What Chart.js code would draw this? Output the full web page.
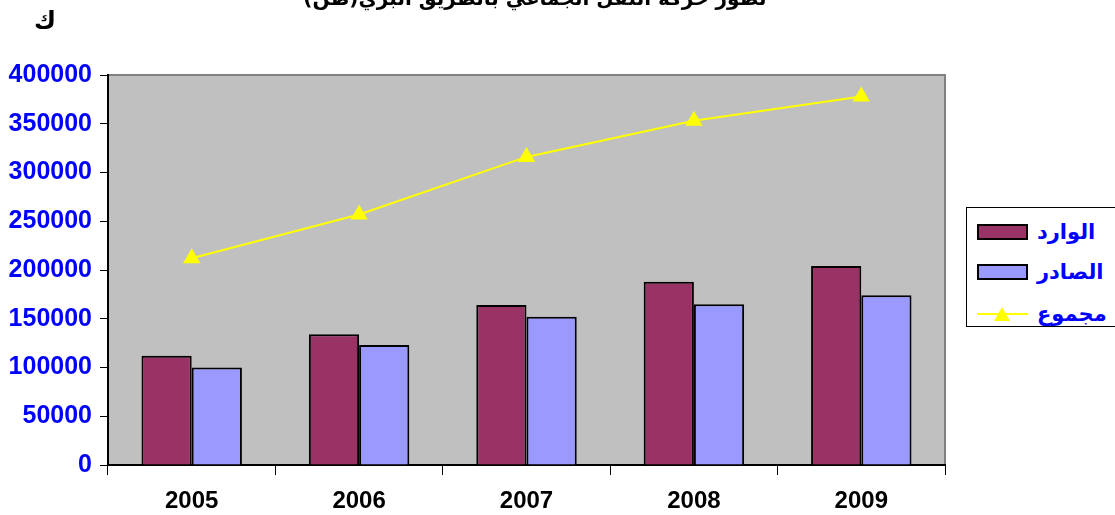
<!DOCTYPE html>
<html><head><meta charset="utf-8">
<script src="https://cdn.jsdelivr.net/npm/chart.js@4"></script>
<style>
html,body{margin:0;padding:0;background:#fff;overflow:hidden;}
#wrap{position:relative;width:1115px;height:515px;}
#title{position:absolute;left:290px;width:490px;top:-14px;text-align:center;font:bold 20px "DejaVu Sans","Liberation Sans";color:#000;direction:rtl;white-space:nowrap;}
#unit{position:absolute;left:34px;top:6px;font:bold 24px "DejaVu Sans";color:#000;}
#legend{position:absolute;left:966px;top:207px;width:160px;height:120px;border:1px solid #000;background:#fff;box-sizing:border-box;}
.li{position:absolute;left:10px;height:24px;display:flex;align-items:center;}
.sw{width:51px;height:16px;border:2px solid #000;box-sizing:border-box;}
.lt{margin-left:9px;font:bold 21px "DejaVu Sans";color:#0000FF;direction:rtl;}
canvas{position:absolute;left:0;top:0;}
</style></head>
<body><div id="wrap">
<canvas id="c" width="1115" height="515"></canvas>
<div id="title">تطور حركة النقل الجماعي بالطريق البري(طن)</div>
<div id="unit">ك</div>
<div id="legend"></div>
</div>
<script>
const categories = ['2005','2006','2007','2008','2009'];
const wared = [112000, 134000, 164000, 188000, 204000];
const sader = [100000, 123000, 152000, 165000, 174000];
const total = [212000, 257000, 316000, 353000, 378000];
const yTicks = [0,50000,100000,150000,200000,250000,300000,350000,400000];
const seriesNames = ['الوارد','الصادر','مجموع'];

const lg = document.getElementById('legend');
lg.innerHTML =
 '<div class="li" style="top:12px"><div class="sw" style="background:#993366"></div><span class="lt">'+seriesNames[0]+'</span></div>'+
 '<div class="li" style="top:52px"><div class="sw" style="background:#9999FF"></div><span class="lt">'+seriesNames[1]+'</span></div>'+
 '<div class="li" style="top:94px"><svg width="51" height="24"><line x1="0" y1="12" x2="51" y2="12" stroke="#FFFF00" stroke-width="2"/><polygon points="17,19 33,19 25,5" fill="#FFFF00"/></svg><span class="lt">'+seriesNames[2]+'</span></div>';

const bgPlugin = {
  id:'bg',
  beforeDraw(chart){
    const {ctx, chartArea:a} = chart;
    ctx.save();
    ctx.fillStyle='#C0C0C0';
    ctx.fillRect(a.left,a.top,a.right-a.left,a.bottom-a.top);
    ctx.strokeStyle='#808080';ctx.lineWidth=2;
    ctx.beginPath();ctx.moveTo(a.left,a.top);ctx.lineTo(a.right,a.top);ctx.lineTo(a.right,a.bottom);ctx.stroke();
    ctx.restore();
  }
};

new Chart(document.getElementById('c'),{
  data:{
    labels:categories,
    datasets:[
      {type:'line',label:seriesNames[2],data:total,borderColor:'#FFFF00',backgroundColor:'#FFFF00',borderWidth:2,pointStyle:'triangle',pointRadius:8,pointHoverRadius:8,order:0},
      {type:'bar',label:seriesNames[0],data:wared,backgroundColor:'#993366',borderColor:'#000',borderWidth:2,categoryPercentage:0.6,barPercentage:1,order:1},
      {type:'bar',label:seriesNames[1],data:sader,backgroundColor:'#9999FF',borderColor:'#000',borderWidth:2,categoryPercentage:0.6,barPercentage:1,order:2}
    ]
  },
  options:{
    responsive:false,animation:false,
    layout:{padding:{top:75,right:170,left:0,bottom:0}},
    plugins:{legend:{display:false},tooltip:{enabled:false}},
    scales:{
      x:{
        offset:true,
        grid:{offset:true,drawOnChartArea:false,drawTicks:true,tickLength:10,color:'#000',lineWidth:1},
        border:{display:true,color:'#000',width:2},
        ticks:{color:'#000',font:{family:'Liberation Sans',size:24,weight:'bold'},padding:12},
        afterFit(s){s.height=50;}
      },
      y:{
        min:0,max:400000,
        afterBuildTicks(s){s.ticks=yTicks.map(v=>({value:v}));},
        grid:{drawOnChartArea:false,drawTicks:true,tickLength:8,color:'#000'},
        border:{display:true,color:'#000',width:2},
        ticks:{color:'#0000FF',font:{family:'Liberation Sans',size:25,weight:'bold'},padding:8,callback:v=>String(v)},
        afterFit(s){s.width=108;}
      }
    }
  },
  plugins:[bgPlugin]
});
</script>
</body></html>
